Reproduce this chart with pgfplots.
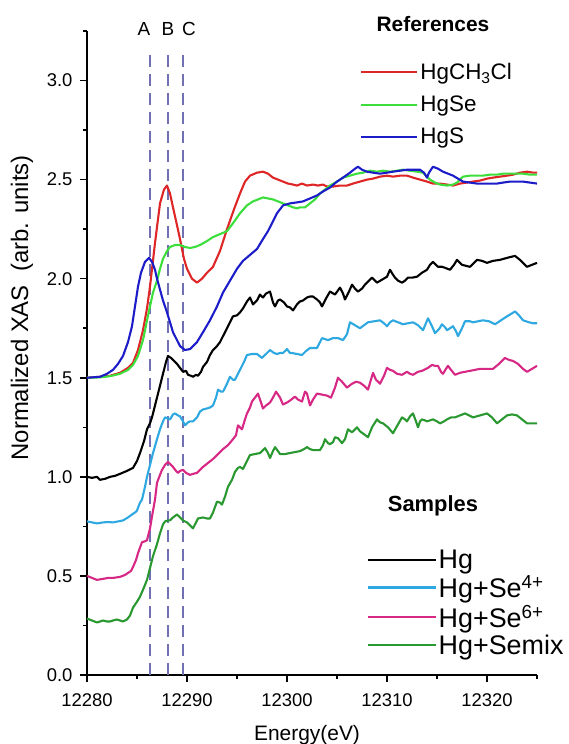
\documentclass[border=0pt]{standalone}
\usepackage{fontspec}
\setmainfont{Liberation Sans}
\usepackage{pgfplots}
\usepackage{pgfplotstable}
\pgfplotsset{compat=1.18}
\definecolor{cred}{RGB}{222,38,38}
\definecolor{cgreen}{RGB}{60,222,60}
\definecolor{cblue}{RGB}{28,28,200}
\definecolor{clblue}{RGB}{45,168,225}
\definecolor{cmag}{RGB}{214,40,132}
\definecolor{cdgreen}{RGB}{42,152,48}
\definecolor{cdash}{RGB}{112,112,178}

\pgfplotstableread{
x y
12280.0 1.50
12281.3 1.505
12282.3 1.51
12283.3 1.525
12284.1 1.55
12284.6 1.575
12285.1 1.64
12285.6 1.74
12286.0 1.85
12286.3 1.96
12286.8 2.18
12287.3 2.38
12287.7 2.45
12288.0 2.47
12288.3 2.43
12288.6 2.36
12289.0 2.27
12289.3 2.20
12289.7 2.10
12290.0 2.05
12290.5 2.00
12291.0 1.98
12291.5 2.00
12292.0 2.03
12292.6 2.06
12293.3 2.14
12294.0 2.25
12294.7 2.35
12295.3 2.43
12295.8 2.49
12296.3 2.52
12297.0 2.535
12297.6 2.54
12298.1 2.53
12298.6 2.51
12299.1 2.50
12299.6 2.49
12300.1 2.48
12300.6 2.475
12301.0 2.47
12301.5 2.48
12302.0 2.47
12302.6 2.475
12303.1 2.47
12303.6 2.475
12304.0 2.465
12304.6 2.465
12305.3 2.47
12306.0 2.47
12306.6 2.48
12307.3 2.49
12308.0 2.50
12308.6 2.505
12309.3 2.515
12310.0 2.52
12310.6 2.515
12311.3 2.52
12312.0 2.52
12312.6 2.51
12313.3 2.50
12314.0 2.49
12314.6 2.48
12315.3 2.48
12316.0 2.475
12316.6 2.47
12317.3 2.48
12318.0 2.485
12318.6 2.49
12319.3 2.495
12320.0 2.505
12320.6 2.51
12321.3 2.515
12322.0 2.52
12322.6 2.525
12323.3 2.535
12324.0 2.54
12324.6 2.535
12325.0 2.535
}\tabred

\pgfplotstableread{
x y
12280.0 1.50
12281.3 1.502
12282.3 1.508
12283.3 1.52
12284.1 1.54
12284.6 1.565
12285.1 1.61
12285.6 1.69
12286.0 1.79
12286.3 1.86
12286.6 1.93
12287.0 1.99
12287.3 2.05
12287.6 2.10
12288.0 2.14
12288.3 2.16
12288.8 2.17
12289.3 2.17
12289.8 2.16
12290.3 2.155
12290.8 2.16
12291.3 2.17
12292.0 2.19
12292.6 2.21
12293.3 2.225
12294.0 2.24
12294.6 2.28
12295.3 2.33
12296.0 2.37
12296.6 2.39
12297.1 2.40
12297.6 2.41
12298.1 2.405
12298.6 2.40
12299.1 2.39
12299.6 2.38
12300.1 2.37
12300.6 2.36
12301.0 2.355
12301.3 2.36
12301.8 2.36
12302.3 2.38
12302.8 2.40
12303.3 2.43
12303.8 2.45
12304.3 2.47
12305.0 2.49
12305.6 2.51
12306.3 2.52
12307.0 2.53
12307.6 2.535
12308.3 2.545
12309.0 2.54
12309.6 2.545
12310.3 2.54
12311.0 2.545
12311.6 2.55
12312.3 2.545
12313.0 2.54
12313.6 2.535
12314.3 2.50
12314.8 2.485
12315.3 2.475
12316.0 2.47
12316.6 2.475
12317.0 2.485
12317.6 2.515
12318.3 2.52
12319.0 2.52
12319.6 2.52
12320.3 2.525
12321.0 2.525
12321.6 2.53
12322.3 2.53
12323.0 2.53
12323.6 2.53
12324.3 2.525
12325.0 2.525
}\tabgreen

\pgfplotstableread{
x y
12280.0 1.50
12281.3 1.505
12282.0 1.52
12282.6 1.54
12283.1 1.57
12283.6 1.61
12284.1 1.68
12284.5 1.76
12284.8 1.86
12285.1 1.96
12285.4 2.03
12285.8 2.085
12286.2 2.105
12286.5 2.085
12286.8 2.045
12287.0 2.00
12287.3 1.945
12287.6 1.89
12288.0 1.83
12288.3 1.78
12288.6 1.73
12289.0 1.69
12289.3 1.66
12289.8 1.64
12290.3 1.645
12291.0 1.68
12291.6 1.73
12292.3 1.79
12293.0 1.86
12293.6 1.93
12294.3 1.99
12295.0 2.05
12295.6 2.09
12296.3 2.12
12297.0 2.15
12297.6 2.20
12298.1 2.24
12298.6 2.29
12299.0 2.33
12299.6 2.37
12300.3 2.38
12301.0 2.385
12301.6 2.39
12302.3 2.405
12303.0 2.42
12303.6 2.44
12304.3 2.46
12305.0 2.49
12305.6 2.51
12306.3 2.535
12306.8 2.555
12307.1 2.565
12307.5 2.55
12308.0 2.54
12308.6 2.535
12309.3 2.53
12310.0 2.535
12310.6 2.54
12311.3 2.545
12312.0 2.55
12312.6 2.55
12313.3 2.55
12313.7 2.535
12314.0 2.51
12314.2 2.535
12314.6 2.565
12315.1 2.555
12315.6 2.54
12316.1 2.53
12316.6 2.52
12317.1 2.505
12317.6 2.49
12318.3 2.485
12319.0 2.48
12319.6 2.48
12320.3 2.48
12321.0 2.48
12321.6 2.485
12322.3 2.49
12323.0 2.49
12323.6 2.49
12324.3 2.485
12325.0 2.48
}\tabblue

\pgfplotstableread{
x y
12280.0 1.00
12280.5 0.995
12281.0 1.00
12281.3 0.985
12281.8 0.99
12282.3 1.00
12282.8 1.005
12283.3 1.015
12284.0 1.03
12284.6 1.045
12285.0 1.08
12285.3 1.12
12285.7 1.18
12286.0 1.24
12286.3 1.27
12286.5 1.30
12286.8 1.36
12287.0 1.40
12287.3 1.46
12287.6 1.52
12287.9 1.58
12288.1 1.61
12288.4 1.60
12288.6 1.59
12289.0 1.57
12289.3 1.55
12289.6 1.53
12289.9 1.535
12290.1 1.515
12290.4 1.51
12290.6 1.505
12290.9 1.515
12291.1 1.51
12291.4 1.53
12291.6 1.555
12292.0 1.58
12292.3 1.615
12292.6 1.64
12293.0 1.66
12293.3 1.68
12293.6 1.71
12294.0 1.75
12294.3 1.78
12294.6 1.81
12295.0 1.815
12295.3 1.83
12295.6 1.85
12296.0 1.885
12296.3 1.905
12296.6 1.87
12297.0 1.89
12297.3 1.92
12297.6 1.905
12297.9 1.925
12298.3 1.935
12298.6 1.88
12298.8 1.86
12299.1 1.89
12299.3 1.895
12299.7 1.88
12300.0 1.86
12300.3 1.855
12300.6 1.84
12301.0 1.87
12301.3 1.885
12301.6 1.89
12302.0 1.905
12302.3 1.91
12302.6 1.91
12303.0 1.895
12303.3 1.88
12303.5 1.86
12303.9 1.90
12304.3 1.935
12304.8 1.92
12305.3 1.955
12305.6 1.925
12305.8 1.895
12306.2 1.935
12306.5 1.97
12306.8 1.95
12307.1 1.935
12307.5 1.95
12307.8 1.97
12308.1 1.985
12308.5 2.005
12308.8 1.99
12309.0 1.98
12309.5 1.995
12310.0 2.01
12310.3 2.045
12310.6 2.02
12310.8 2.005
12311.1 1.99
12311.5 1.98
12311.8 1.99
12312.1 2.005
12312.5 2.005
12313.0 2.01
12313.5 2.03
12314.0 2.045
12314.3 2.07
12314.6 2.085
12315.1 2.06
12315.5 2.06
12315.8 2.055
12316.3 2.045
12316.7 2.07
12317.0 2.095
12317.5 2.07
12317.9 2.065
12318.3 2.06
12318.7 2.08
12319.0 2.095
12319.5 2.09
12320.0 2.08
12320.6 2.09
12321.3 2.095
12322.0 2.105
12322.8 2.115
12323.3 2.095
12323.7 2.075
12324.0 2.06
12324.5 2.07
12325.0 2.08
}\tabhg

\pgfplotstableread{
x y
12280.0 0.775
12280.5 0.77
12281.0 0.765
12281.6 0.77
12282.1 0.772
12282.6 0.77
12283.1 0.775
12283.6 0.78
12284.1 0.795
12284.5 0.81
12284.8 0.82
12285.0 0.83
12285.3 0.87
12285.5 0.885
12285.8 0.95
12286.0 1.00
12286.3 1.06
12286.6 1.12
12287.0 1.19
12287.3 1.24
12287.6 1.28
12287.8 1.30
12288.1 1.295
12288.3 1.29
12288.6 1.315
12288.8 1.32
12289.1 1.31
12289.3 1.305
12289.6 1.28
12289.8 1.26
12290.1 1.275
12290.3 1.28
12290.6 1.28
12291.0 1.30
12291.3 1.33
12291.6 1.34
12292.0 1.345
12292.3 1.35
12292.6 1.36
12292.9 1.40
12293.1 1.44
12293.4 1.43
12293.6 1.43
12294.0 1.47
12294.3 1.505
12294.6 1.49
12294.8 1.49
12295.1 1.52
12295.3 1.54
12295.7 1.58
12296.0 1.615
12296.5 1.62
12297.0 1.62
12297.5 1.60
12297.9 1.62
12298.3 1.64
12298.7 1.625
12299.0 1.62
12299.3 1.625
12299.6 1.625
12300.0 1.645
12300.3 1.625
12300.5 1.625
12301.0 1.62
12301.5 1.615
12301.9 1.635
12302.3 1.65
12302.6 1.65
12303.0 1.65
12303.5 1.70
12303.8 1.695
12304.1 1.69
12304.6 1.70
12305.1 1.70
12305.6 1.69
12306.0 1.72
12306.3 1.78
12306.8 1.765
12307.3 1.75
12307.7 1.765
12308.1 1.78
12308.7 1.785
12309.3 1.79
12309.7 1.775
12310.0 1.76
12310.3 1.78
12310.6 1.79
12311.1 1.78
12311.6 1.77
12312.1 1.775
12312.6 1.78
12313.1 1.765
12313.6 1.74
12314.1 1.80
12314.5 1.76
12314.8 1.725
12315.2 1.745
12315.5 1.77
12315.8 1.755
12316.0 1.74
12316.3 1.75
12316.6 1.76
12316.9 1.735
12317.1 1.71
12317.5 1.75
12317.8 1.785
12318.3 1.785
12318.6 1.78
12319.1 1.785
12319.6 1.79
12320.2 1.785
12320.8 1.77
12321.4 1.79
12322.0 1.81
12322.5 1.825
12322.8 1.835
12323.2 1.815
12323.6 1.79
12324.2 1.78
12324.6 1.775
12325.0 1.775
}\tabsefour

\pgfplotstableread{
x y
12280.0 0.50
12280.5 0.49
12281.0 0.48
12281.6 0.485
12282.1 0.49
12282.6 0.49
12283.3 0.495
12283.8 0.505
12284.1 0.515
12284.4 0.525
12284.6 0.545
12284.9 0.58
12285.1 0.615
12285.5 0.67
12285.8 0.675
12286.0 0.68
12286.3 0.74
12286.5 0.80
12286.8 0.885
12287.0 0.97
12287.3 1.01
12287.5 1.035
12287.8 1.06
12288.1 1.075
12288.3 1.065
12288.6 1.05
12288.9 1.03
12289.1 1.02
12289.3 1.03
12289.6 1.035
12289.9 1.02
12290.3 1.01
12290.6 1.015
12291.0 1.02
12291.3 1.035
12291.6 1.05
12292.1 1.07
12292.6 1.09
12293.1 1.115
12293.6 1.14
12294.1 1.16
12294.6 1.19
12294.9 1.21
12295.1 1.26
12295.5 1.24
12295.8 1.29
12296.0 1.32
12296.3 1.35
12296.5 1.38
12296.8 1.40
12297.1 1.42
12297.3 1.39
12297.6 1.345
12297.9 1.36
12298.3 1.375
12298.6 1.40
12298.9 1.43
12299.3 1.40
12299.6 1.365
12300.0 1.375
12300.3 1.385
12300.8 1.405
12301.1 1.39
12301.5 1.38
12301.8 1.43
12302.0 1.42
12302.3 1.36
12302.6 1.39
12303.0 1.42
12303.5 1.415
12304.0 1.41
12304.4 1.40
12304.8 1.45
12305.1 1.50
12305.5 1.48
12306.0 1.45
12306.5 1.47
12306.9 1.48
12307.3 1.475
12307.7 1.46
12308.1 1.44
12308.6 1.525
12308.9 1.49
12309.3 1.47
12309.7 1.51
12310.0 1.55
12310.3 1.54
12310.6 1.535
12311.0 1.52
12311.5 1.515
12312.0 1.53
12312.3 1.52
12312.6 1.515
12313.1 1.53
12313.5 1.535
12314.1 1.55
12314.5 1.565
12314.8 1.56
12315.1 1.56
12315.4 1.53
12315.6 1.52
12315.9 1.545
12316.1 1.56
12316.4 1.54
12316.8 1.515
12317.3 1.525
12317.8 1.53
12318.3 1.535
12318.8 1.54
12319.3 1.545
12320.0 1.545
12320.6 1.545
12321.2 1.57
12321.8 1.60
12322.2 1.59
12322.6 1.585
12323.1 1.57
12323.6 1.545
12324.0 1.53
12324.5 1.545
12325.0 1.56
}\tabsesix

\pgfplotstableread{
x y
12280.0 0.285
12280.5 0.275
12281.0 0.265
12281.3 0.27
12281.6 0.275
12282.0 0.27
12282.3 0.27
12282.6 0.275
12283.0 0.28
12283.3 0.275
12283.6 0.27
12284.0 0.28
12284.3 0.30
12284.6 0.34
12285.0 0.37
12285.3 0.395
12285.6 0.43
12286.0 0.48
12286.3 0.54
12286.6 0.60
12287.0 0.66
12287.3 0.715
12287.6 0.76
12287.8 0.775
12288.1 0.78
12288.3 0.78
12288.6 0.795
12289.0 0.81
12289.3 0.795
12289.6 0.78
12290.0 0.77
12290.3 0.755
12290.6 0.74
12290.9 0.77
12291.1 0.79
12291.6 0.795
12292.0 0.79
12292.3 0.79
12292.6 0.82
12293.0 0.875
12293.3 0.87
12293.5 0.86
12293.8 0.90
12294.1 0.95
12294.5 0.985
12294.8 1.025
12295.1 1.045
12295.3 1.05
12295.6 1.04
12295.9 1.07
12296.3 1.11
12296.8 1.115
12297.3 1.12
12297.8 1.145
12298.1 1.12
12298.3 1.095
12298.6 1.13
12298.8 1.15
12299.1 1.13
12299.3 1.115
12299.8 1.115
12300.3 1.12
12300.8 1.125
12301.3 1.13
12301.7 1.14
12302.0 1.15
12302.3 1.14
12302.6 1.135
12303.0 1.135
12303.3 1.135
12303.6 1.16
12303.8 1.19
12304.1 1.17
12304.3 1.165
12304.6 1.175
12304.8 1.20
12305.1 1.195
12305.5 1.17
12305.8 1.19
12306.1 1.24
12306.5 1.225
12307.0 1.25
12307.3 1.23
12307.7 1.215
12308.1 1.20
12308.5 1.25
12309.0 1.29
12309.3 1.275
12309.6 1.27
12310.1 1.25
12310.6 1.22
12311.1 1.265
12311.5 1.30
12311.8 1.29
12312.0 1.28
12312.3 1.305
12312.6 1.32
12312.9 1.28
12313.1 1.25
12313.3 1.28
12313.5 1.29
12313.8 1.285
12314.0 1.28
12314.3 1.285
12314.6 1.29
12315.0 1.28
12315.3 1.27
12315.7 1.28
12316.0 1.29
12316.4 1.30
12316.8 1.30
12317.3 1.31
12317.8 1.32
12318.2 1.31
12318.6 1.30
12319.3 1.31
12320.0 1.32
12320.5 1.30
12321.0 1.27
12321.5 1.29
12322.0 1.31
12322.5 1.315
12323.0 1.31
12323.5 1.29
12324.0 1.27
12324.5 1.27
12325.0 1.27
}\tabsemix

\pgfplotsset{
  common/.style={
    at={(0,0)}, anchor=south west,
    scale only axis, width=450bp, height=644bp,
    xmin=12280, xmax=12325, ymin=0, ymax=3.25,
    clip=false,
    legend cell align=left,
  },
  curve/.style={line width=2.1bp, line join=round, mark=none},
}

\begin{document}
\begin{tikzpicture}
\begin{axis}[
  common,
  axis lines=left,
  axis line style={-, line width=1.5bp},
  tick align=outside,
  tick style={black, line width=1.5bp},
  major tick length=7bp, minor tick length=4bp,
  xtick={12280,12290,12300,12310,12320},
  minor xtick={12285,12295,12305,12315,12325},
  ytick={0,0.5,1,1.5,2,2.5,3},
  minor ytick={0.25,0.75,1.25,1.75,2.25,2.75,3.25},
  scaled x ticks=false,
  xticklabel style={/pgf/number format/1000 sep={}, yshift=-8bp},
  yticklabel style={/pgf/number format/.cd, fixed, fixed zerofill, precision=1, /tikz/xshift=-4bp},
  /pgf/number format/assume math mode=true,
  tick label style={font=\fontsize{18.5}{20}\selectfont},
  xlabel={Energy(eV)},
  xlabel style={at={(axis description cs:0.489,-0.101)}, anchor=base, font=\fontsize{21}{24}\selectfont},
  ylabel={Normalized XAS~~(arb. units)},
  ylabel style={at={(axis description cs:-0.1444,0.57)}, anchor=center, font=\fontsize{24}{26}\selectfont},
  legend image code/.code={\draw[#1, line width=2.1bp] (0bp,0bp) -- (50bp,0bp); \path (0bp,0bp) -- (56bp,0bp);},
  legend style={draw=none, fill=none, at={(axis description cs:0.607,0.953)}, anchor=north west,
    font=\fontsize{22.5}{25}\selectfont, row sep=11bp, inner sep=0pt,
    nodes={inner sep=2bp}},
]
\addplot[cdash, line width=2bp, dash pattern=on 12bp off 7bp, forget plot] coordinates {(12286.3,0) (12286.3,3.15)};
\addplot[cdash, line width=2bp, dash pattern=on 12bp off 7bp, forget plot] coordinates {(12288.07,0) (12288.07,3.15)};
\addplot[cdash, line width=2bp, dash pattern=on 12bp off 7bp, forget plot] coordinates {(12289.57,0) (12289.57,3.15)};
\addplot[curve, cred] table[x=x,y=y] {\tabred};
\addlegendentry{HgCH\textsubscript{3}Cl}
\addplot[curve, cgreen] table[x=x,y=y] {\tabgreen};
\addlegendentry{HgSe}
\addplot[curve, cblue] table[x=x,y=y] {\tabblue};
\addlegendentry{HgS}
\node[font=\fontsize{19}{21}\selectfont, anchor=base] at (axis cs:12285.7,3.227) {A};
\node[font=\fontsize{19}{21}\selectfont, anchor=base] at (axis cs:12288.1,3.227) {B};
\node[font=\fontsize{19}{21}\selectfont, anchor=base] at (axis cs:12290.2,3.227) {C};
\node[font=\bfseries\fontsize{21}{24}\selectfont, anchor=base] at (axis cs:12314.6,3.247) {References};
\node[font=\bfseries\fontsize{22}{24}\selectfont, anchor=base] at (axis cs:12314.6,0.823) {Samples};
\end{axis}
\begin{axis}[
  common,
  hide axis,
  legend image code/.code={\draw[#1, line width=2.1bp] (0bp,0bp) -- (50bp,0bp); \path (0bp,0bp) -- (68bp,0bp);},
  legend style={draw=none, fill=none, at={(axis description cs:0.622,0.197)}, anchor=north west,
    font=\fontsize{27}{29}\selectfont, row sep=3bp, inner sep=0pt,
    nodes={inner sep=1.5bp}},
]
\addplot[curve, black] table[x=x,y=y] {\tabhg};
\addlegendentry{Hg}
\addplot[curve, clblue] table[x=x,y=y] {\tabsefour};
\addlegendentry{Hg+Se\textsuperscript{4+}}
\addplot[curve, cmag] table[x=x,y=y] {\tabsesix};
\addlegendentry{Hg+Se\textsuperscript{6+}}
\addplot[curve, cdgreen] table[x=x,y=y] {\tabsemix};
\addlegendentry{Hg+Semix}
\end{axis}
\pgfresetboundingbox
\path[use as bounding box] (-87bp,-69bp) rectangle (482bp,675bp);
\end{tikzpicture}
\end{document}
